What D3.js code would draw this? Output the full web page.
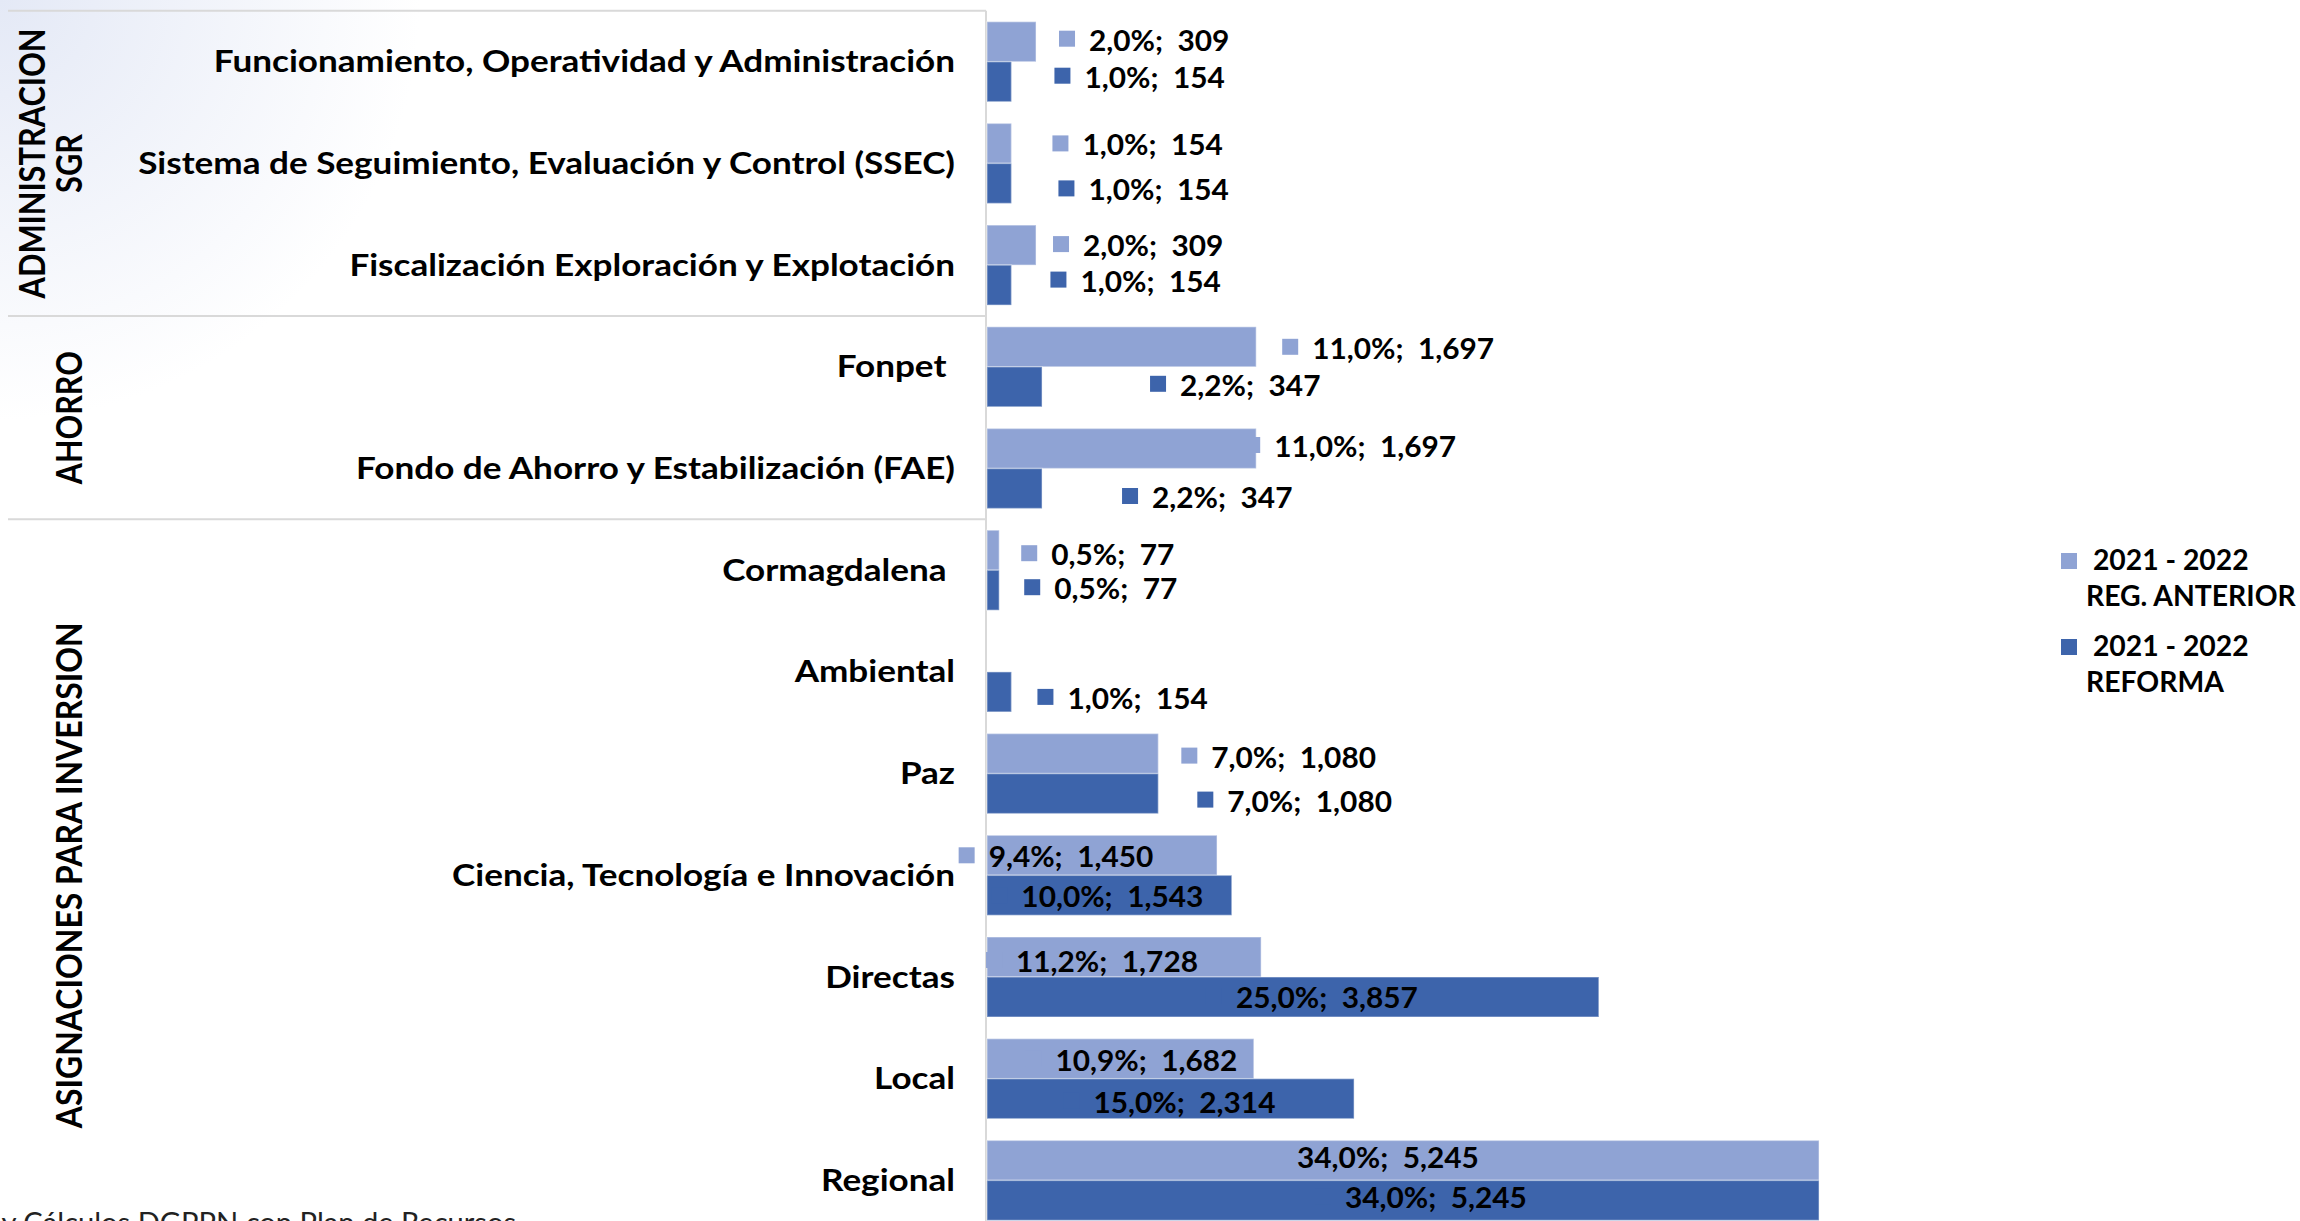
<!DOCTYPE html>
<html>
<head>
<meta charset="utf-8">
<script src="https://cdn.jsdelivr.net/npm/d3@7"></script>
<style>
body { margin: 0; background: #fff; }
text { font-family: Lato, "Open Sans", sans-serif; }
</style>
</head>
<body>
<svg id="chart" width="2300" height="1221"></svg>
<script>
// categories, top to bottom
var categories = [
    "Funcionamiento, Operatividad y Administración",
    "Sistema de Seguimiento, Evaluación y Control (SSEC)",
    "Fiscalización Exploración y Explotación",
    "Fonpet\u00a0",
    "Fondo de Ahorro y Estabilización (FAE)",
    "Cormagdalena\u00a0",
    "Ambiental",
    "Paz",
    "Ciencia, Tecnología e Innovación",
    "Directas",
    "Local",
    "Regional"
];
var groupNames = [["ADMINISTRACION", "SGR"], ["AHORRO"], ["ASIGNACIONES PARA INVERSION"]];
var groupFirst = [0, 3, 5];
var groupLast = [2, 4, 11];

var seriesNames = [["\u00a02021 - 2022", "REG. ANTERIOR"], ["\u00a02021 - 2022", "REFORMA"]];
var valAnterior = [309, 154, 309, 1697, 1697, 77, null, 1080, 1450, 1728, 1682, 5245];
var pctAnterior = [2.0, 1.0, 2.0, 11.0, 11.0, 0.5, null, 7.0, 9.4, 11.2, 10.9, 34.0];
var valReforma = [154, 154, 154, 347, 347, 77, 154, 1080, 1543, 3857, 2314, 5245];
var pctReforma = [1.0, 1.0, 1.0, 2.2, 2.2, 0.5, 1.0, 7.0, 10.0, 25.0, 15.0, 34.0];

var colors = ["#8fa3d4", "#3d64ab"];

// where each data label sits: outside the bar end or centred in it, plus a nudge
var labelNudge = [
    [["out", -1, -3], ["out", 17, 0], ["out", -7, -1], ["out", 2, 0], ["out", -36, -3.5], ["out", -2, 3],
     null, ["out", -1, 2], ["in", -46, 0], ["in", -32, 3], ["in", 11, 0], ["in", -30, -4]],
    [["out", 19, -6], ["out", 23, 5], ["out", 15, -5.5], ["out", 84, -3], ["out", 56, 7.5], ["out", 1, -3],
     ["out", 2, 5], ["out", 15, 6], ["in", -12, 0], ["in", 19, -1], ["in", -1, 2], ["in", 18, -4]]
];

var svg = d3.select("#chart");

// soft slide tint top left
var defs = svg.append("defs");
var grad = defs.append("radialGradient").attr("id", "bgTint")
    .attr("cx", 0).attr("cy", 0).attr("r", 420).attr("gradientUnits", "userSpaceOnUse");
grad.append("stop").attr("offset", "0%").attr("stop-color", "#e4e9f6");
grad.append("stop").attr("offset", "100%").attr("stop-color", "#ffffff");
svg.append("rect").attr("width", 2300).attr("height", 1221).style("fill", "url(#bgTint)");

var rows = categories.map(function (c, i) {
    return {cat: c, vals: [valAnterior[i], valReforma[i]], pcts: [pctAnterior[i], pctReforma[i]], i: i};
});

var y = d3.scaleBand().domain(categories).range([10.85, 1231.25]).paddingInner(0.2134).paddingOuter(0.1067);
var ys = d3.scaleBand().domain([0, 1]).range([0, y.bandwidth()]);
var x = d3.scaleLinear().domain([0, 6000]).range([987, 1938.8]);
var gapHalf = (y.step() - y.bandwidth()) / 2;

// separator lines
var bounds = [y(categories[0]) - gapHalf];
groupLast.forEach(function (l) { bounds.push(y(categories[l]) + y.bandwidth() + gapHalf); });
svg.selectAll(".sep").data(bounds.slice(0, 3)).enter().append("line")
    .attr("x1", 8).attr("x2", x(0) - 1)
    .attr("y1", function (d) { return d; }).attr("y2", function (d) { return d; })
    .style("stroke", "#d9d9d9").style("stroke-width", 2);
svg.append("line").attr("x1", x(0) - 1).attr("x2", x(0) - 1).attr("y1", bounds[0]).attr("y2", 1221)
    .style("stroke", "#d9d9d9").style("stroke-width", 2);

// bars
rows.forEach(function (r) {
    [0, 1].forEach(function (s) {
        if (r.vals[s] == null) return;
        svg.append("rect")
            .attr("x", x(0))
            .attr("y", y(r.cat) + ys(s))
            .attr("width", x(r.vals[s]) - x(0))
            .attr("height", ys.bandwidth())
            .style("fill", colors[s])
            .style("stroke", "#ffffff").style("stroke-opacity", 0.35).style("stroke-width", 1.5);
    });
});

// data labels with legend key
var fmtVal = d3.format(",");
var labelStretch = 1.065;
function labelText(p, v) {
    return p.toFixed(1).replace(".", ",") + "%;\u00a0\u00a0" + fmtVal(v);
}
rows.forEach(function (r) {
    [0, 1].forEach(function (s) {
        var n = labelNudge[s][r.i];
        if (r.vals[s] == null || !n) return;
        var cy = y(r.cat) + ys(s) + ys.bandwidth() / 2 + n[2];
        var g = svg.append("g");
        var t = g.append("text").text(labelText(r.pcts[s], r.vals[s]))
            .style("font-size", "28px").style("font-weight", "bold").style("fill", "#000");
        var tw = t.node().getComputedTextLength() * labelStretch;
        var sx;
        if (n[0] === "out") {
            sx = x(r.vals[s]) + 24 + n[1];
        } else {
            sx = (x(0) + x(r.vals[s])) / 2 + n[1] - (30 + tw) / 2;
        }
        g.insert("rect", "text").attr("x", sx).attr("y", cy - 8).attr("width", 16).attr("height", 16)
            .style("fill", colors[s]);
        t.attr("transform", "translate(" + (sx + 30) + "," + (cy + 12) + ") scale(" + labelStretch + ",1)");
    });
});

// category labels
svg.selectAll(".cat").data(categories).enter().append("text")
    .attr("transform", function (d) {
        return "translate(955," + (y(d) + y.bandwidth() / 2 + 10.5) + ") scale(1.17,1)";
    })
    .attr("text-anchor", "end")
    .style("font-size", "30px").style("font-weight", "bold").style("fill", "#000")
    .text(function (d) { return d; });

// group labels, rotated
var groupLen = {"ADMINISTRACION": 270, "SGR": 59, "AHORRO": 133, "ASIGNACIONES PARA INVERSION": 506};
groupNames.forEach(function (lines, gi) {
    var top = y(categories[groupFirst[gi]]) - gapHalf;
    var bottom = y(categories[groupLast[gi]]) + y.bandwidth() + gapHalf;
    var cy = (top + bottom) / 2;
    lines.forEach(function (line, li) {
        var bx = 82 - (lines.length - 1 - li) * 37;
        svg.append("text")
            .attr("transform", "translate(" + bx + "," + cy + ") rotate(-90)")
            .attr("text-anchor", "middle")
            .attr("textLength", groupLen[line])
            .attr("lengthAdjust", "spacingAndGlyphs")
            .style("font-size", "36px").style("font-weight", "bold").style("fill", "#000")
            .text(line);
    });
});

// legend
var legend = svg.selectAll(".legend").data(seriesNames).enter().append("g")
    .attr("transform", function (d, i) { return "translate(2061," + (553 + i * 86) + ")"; });
legend.append("rect").attr("width", 16).attr("height", 16)
    .style("fill", function (d, i) { return colors[i]; });
legend.each(function (lines) {
    var g = d3.select(this);
    lines.forEach(function (line, li) {
        g.append("text").attr("transform", "translate(25," + (17 + li * 36) + ") scale(1.012,1)")
            .style("font-size", "28px").style("font-weight", "bold").style("fill", "#000")
            .text(line);
    });
});

// source note, cut by the bottom edge
svg.append("text").attr("transform", "translate(516,1233) scale(1.04,1)").attr("text-anchor", "end")
    .style("font-size", "28px").style("fill", "#222")
    .text("Fuente: DNP y Cálculos DGPPN con Plan de Recursos");
</script>
</body>
</html>
